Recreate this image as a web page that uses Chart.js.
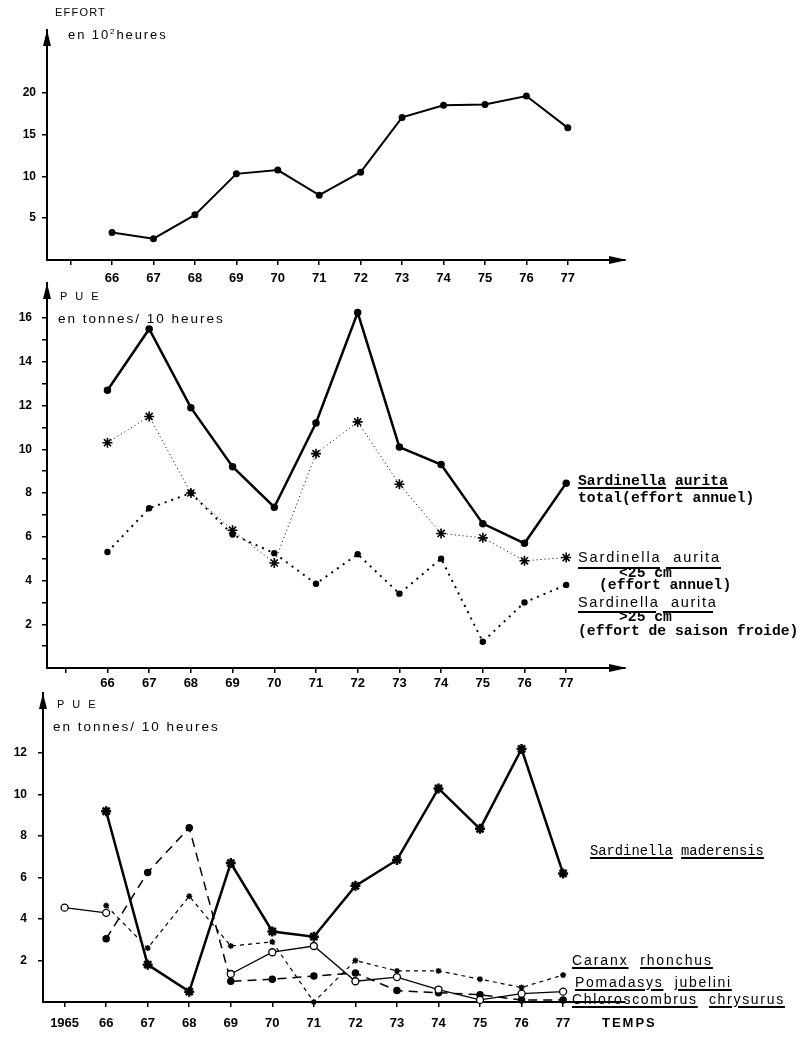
<!DOCTYPE html>
<html>
<head>
<meta charset="utf-8">
<script src="https://cdn.jsdelivr.net/npm/chart.js@4/dist/chart.umd.min.js"></script>
<style>
  html, body { margin: 0; padding: 0; background: #fff; }
  #wrap { position: relative; width: 800px; height: 1040px; overflow: hidden; background: #fff; }
  canvas { position: absolute; left: 0; top: 0; }
  .t { position: absolute; white-space: pre; line-height: 1; color: #000; }
  .sans { font-family: 'Liberation Sans', Arial, sans-serif; }
  .mono { font-family: 'Liberation Mono', 'DejaVu Sans Mono', monospace; }
  u { text-decoration-thickness: 1.5px; text-underline-offset: 2px; }
  .ln { position: absolute; background: #000; }
</style>
</head>
<body>
<div id="wrap">
  <canvas id="c1" width="800" height="1040"></canvas>
  <canvas id="c2" width="800" height="1040"></canvas>
  <canvas id="c3" width="800" height="1040"></canvas>

  <!-- top panel texts -->
  <div class="t sans" style="left:55px;top:7px;font-size:11px;letter-spacing:1.2px;">EFFORT</div>
  <div class="t sans" style="left:68px;top:28px;font-size:13px;letter-spacing:1.9px;">en 10<span style="font-size:8px;position:relative;top:-5px;">2</span>heures</div>

  <!-- middle panel texts -->
  <div class="t sans" style="left:60px;top:291px;font-size:11px;letter-spacing:2.5px;">P U E</div>
  <div class="t sans" style="left:58px;top:312px;font-size:13.5px;letter-spacing:2px;">en tonnes/ 10 heures</div>

  <div class="t mono" style="left:578px;top:474px;font-size:14.7px;font-weight:bold;"><u>Sardinella</u> <u>aurita</u></div>
  <div class="t mono" style="left:578px;top:491px;font-size:14.7px;font-weight:bold;">total(effort annuel)</div>

  <div class="t sans" style="left:578px;top:550px;font-size:14.5px;letter-spacing:1.9px;">Sardinella  aurita</div>
  <div class="ln" style="left:578px;top:567px;width:82px;height:2px;"></div>
  <div class="ln" style="left:666px;top:567px;width:55px;height:2px;"></div>
  <div class="t mono" style="left:619px;top:566px;font-size:14.7px;font-weight:bold;">&lt;25 cm</div>
  <div class="t mono" style="left:599px;top:578px;font-size:14.7px;font-weight:bold;">(effort annuel)</div>

  <div class="t sans" style="left:578px;top:595px;font-size:14.5px;letter-spacing:1.7px;">Sardinella  aurita</div>
  <div class="ln" style="left:578px;top:611px;width:78px;height:2px;"></div>
  <div class="ln" style="left:663px;top:611px;width:50px;height:2px;"></div>
  <div class="t mono" style="left:619px;top:610px;font-size:14.7px;font-weight:bold;">&gt;25 cm</div>
  <div class="t mono" style="left:578px;top:624px;font-size:14.7px;font-weight:bold;">(effort de saison froide)</div>

  <!-- bottom panel texts -->
  <div class="t sans" style="left:57px;top:699px;font-size:11px;letter-spacing:2.5px;">P U E</div>
  <div class="t sans" style="left:53px;top:720px;font-size:13.5px;letter-spacing:2px;">en tonnes/ 10 heures</div>

  <div class="t mono" style="left:590px;top:845px;font-size:13.8px;"><u>Sardinella</u> <u>maderensis</u></div>
  <div class="t sans" style="left:572px;top:953px;font-size:14px;letter-spacing:1.9px;"><u>Caranx</u>  <u>rhonchus</u></div>
  <div class="t sans" style="left:575px;top:975px;font-size:14px;letter-spacing:1.7px;"><u>Pomadasys</u>  <u>jubelini</u></div>
  <div class="t sans" style="left:572px;top:992px;font-size:14px;letter-spacing:1.7px;"><u>Chloroscombrus</u>  <u>chrysurus</u></div>
  <div class="t sans" style="left:602px;top:1016px;font-size:13px;font-weight:bold;letter-spacing:2px;">TEMPS</div>
</div>

<script>
// ---------------- DATA ----------------
const years = [66, 67, 68, 69, 70, 71, 72, 73, 74, 75, 76, 77];
const effort = [3.3, 2.55, 5.4, 10.3, 10.75, 7.75, 10.5, 17.05, 18.5, 18.6, 19.6, 15.8];

const aurTotal = [12.7, 15.5, 11.9, 9.2, 7.35, 11.2, 16.25, 10.1, 9.3, 6.6, 5.7, 8.45];
const aurSmall = [10.3, 11.5, 8.0, 6.3, 4.8, 9.8, 11.25, 8.4, 6.15, 5.95, 4.9, 5.05];
const aurLarge = [5.3, 7.3, 8.0, 6.1, 5.25, 3.85, 5.2, 3.4, 5.0, 1.2, 3.0, 3.8];

const yearsBottom = [65, 66, 67, 68, 69, 70, 71, 72, 73, 74, 75, 76, 77];
const maderensis = [null, 9.2, 1.8, 0.5, 6.7, 3.4, 3.15, 5.6, 6.85, 10.3, 8.35, 12.2, 6.2];
const caranx = [null, 4.65, 2.6, 5.1, 2.7, 2.9, 0, 2.0, 1.5, 1.5, 1.1, 0.7, 1.3];
const pomadasys = [4.55, 4.3, null, null, 1.35, 2.4, 2.7, 1.0, 1.2, 0.6, 0.1, 0.4, 0.5];
const chloroscombrus = [null, 3.05, 6.25, 8.4, 1.0, 1.1, 1.25, 1.4, 0.55, 0.45, 0.35, 0.1, 0.1];

const xTicks = [65, 66, 67, 68, 69, 70, 71, 72, 73, 74, 75, 76, 77];
const xTickLabelsTop = ['', '66', '67', '68', '69', '70', '71', '72', '73', '74', '75', '76', '77'];
const xTickLabelsBottom = ['1965', '66', '67', '68', '69', '70', '71', '72', '73', '74', '75', '76', '77'];
const yTicksTop = [5, 10, 15, 20];
const yTicksMid = [1, 2, 3, 4, 5, 6, 7, 8, 9, 10, 11, 12, 13, 14, 15, 16];
const yTicksBottom = [2, 4, 6, 8, 10, 12];

// ---------------- HELPERS ----------------
const pts = (xs, ys) => xs.map((x, i) => ({ x: x, y: ys[i] }));

const arrowPlugin = {
  id: 'arrows',
  afterDraw(chart, args, opts) {
    const ctx = chart.ctx, a = chart.chartArea;
    ctx.save();
    ctx.fillStyle = '#000';
    if (opts.up) {
      ctx.beginPath();
      ctx.moveTo(a.left, a.top);
      ctx.lineTo(a.left - 4, a.top + 16);
      ctx.lineTo(a.left + 4, a.top + 16);
      ctx.closePath();
      ctx.fill();
    }
    if (opts.right) {
      ctx.beginPath();
      ctx.moveTo(a.right + 2, a.bottom);
      ctx.lineTo(a.right - 16, a.bottom - 4);
      ctx.lineTo(a.right - 16, a.bottom + 4);
      ctx.closePath();
      ctx.fill();
    }
    ctx.restore();
  }
};

function panel(id, g, datasets, xLabels, yTicks, yLabel, yPad, xPad, arrows) {
  const ctx = document.getElementById(id);
  return new Chart(ctx, {
    type: 'line',
    data: { datasets: datasets },
    plugins: [arrowPlugin],
    options: {
      responsive: false,
      animation: false,
      events: [],
      layout: { padding: { left: 0, top: g.top, right: 800 - g.right, bottom: 1040 - g.bottom - 30 } },
      plugins: { legend: { display: false }, tooltip: { enabled: false }, arrows: arrows },
      scales: {
        x: {
          type: 'linear', min: g.xmin, max: g.xmax,
          afterBuildTicks: s => { s.ticks = xTicks.map(v => ({ value: v })); },
          afterFit: s => { s.height = 30; },
          ticks: {
            autoSkip: false, maxRotation: 0, color: '#000', padding: xPad,
            font: { family: "'Liberation Sans', Arial, sans-serif", size: 13, weight: 'bold' },
            callback: (v) => { const i = xTicks.indexOf(v); return i >= 0 ? xLabels[i] : ''; }
          },
          grid: { display: true, drawOnChartArea: false, drawTicks: true, tickLength: 5, color: '#000', lineWidth: 1.5 },
          border: { display: true, color: '#000', width: 2 }
        },
        y: {
          type: 'linear', min: 0, max: g.ymax,
          afterBuildTicks: s => { s.ticks = yTicks.map(v => ({ value: v })); },
          afterFit: s => { s.width = g.left; },
          ticks: {
            autoSkip: false, color: '#000', padding: yPad,
            font: { family: "'Liberation Sans', Arial, sans-serif", size: 12, weight: 'bold' },
            callback: yLabel
          },
          grid: { display: true, drawOnChartArea: false, drawTicks: true, tickLength: 5, color: '#000', lineWidth: 1.5 },
          border: { display: true, color: '#000', width: 2 }
        }
      }
    }
  });
}

// ---------------- TOP PANEL ----------------
panel('c1',
  { left: 47, right: 625, top: 30, bottom: 260, xmin: 64.43, xmax: 78.38, ymax: 27.5 },
  [{
    data: pts(years, effort), borderColor: '#000', borderWidth: 2, tension: 0,
    pointRadius: 2.5, pointBackgroundColor: '#000', pointBorderColor: '#000', clip: false
  }],
  xTickLabelsTop, yTicksTop, v => String(v), 6, 6, { up: true, right: true });

// ---------------- MIDDLE PANEL ----------------
panel('c2',
  { left: 47, right: 625, top: 283, bottom: 668, xmin: 64.55, xmax: 78.41, ymax: 17.6 },
  [{
    data: pts(years, aurTotal), borderColor: '#000', borderWidth: 2.5, tension: 0,
    pointRadius: 2.5, pointBackgroundColor: '#000', pointBorderColor: '#000', clip: false
  }, {
    data: pts(years, aurSmall), borderColor: '#000', borderWidth: 1, borderDash: [1, 3], tension: 0,
    pointStyle: 'star', pointRadius: 5, pointBorderWidth: 1.6, pointBorderColor: '#000', clip: false
  }, {
    data: pts(years, aurLarge), borderColor: '#000', borderWidth: 2, borderDash: [2, 5], tension: 0,
    pointRadius: 2.2, pointBackgroundColor: '#000', pointBorderColor: '#000', clip: false
  }],
  xTickLabelsTop, yTicksMid, v => (v % 2 === 0 ? String(v) : ''), 10, 3, { up: true, right: true });

// ---------------- BOTTOM PANEL ----------------
panel('c3',
  { left: 43, right: 625, top: 693, bottom: 1002, xmin: 64.48, xmax: 78.49, ymax: 14.9 },
  [{
    data: pts(yearsBottom, maderensis), borderColor: '#000', borderWidth: 2.5, tension: 0,
    pointStyle: 'star', pointRadius: 5, pointBorderWidth: 2.5, pointBorderColor: '#000', clip: false
  }, {
    data: pts(yearsBottom, caranx), borderColor: '#000', borderWidth: 1.2, borderDash: [4, 4], tension: 0,
    pointStyle: 'star', pointRadius: 3, pointBorderWidth: 1.4, pointBorderColor: '#000', clip: false
  }, {
    data: pts(yearsBottom, pomadasys), borderColor: '#000', borderWidth: 1.3, tension: 0, spanGaps: false,
    pointRadius: 3.5, pointBackgroundColor: '#fff', pointBorderColor: '#000', pointBorderWidth: 1.3, clip: false
  }, {
    data: pts(yearsBottom, chloroscombrus), borderColor: '#000', borderWidth: 1.5, borderDash: [9, 6], tension: 0,
    pointRadius: 3, pointBackgroundColor: '#000', pointBorderColor: '#000', clip: false
  }],
  xTickLabelsBottom, yTicksBottom, v => String(v), 11, 9, { up: true, right: false });
</script>
</body>
</html>
